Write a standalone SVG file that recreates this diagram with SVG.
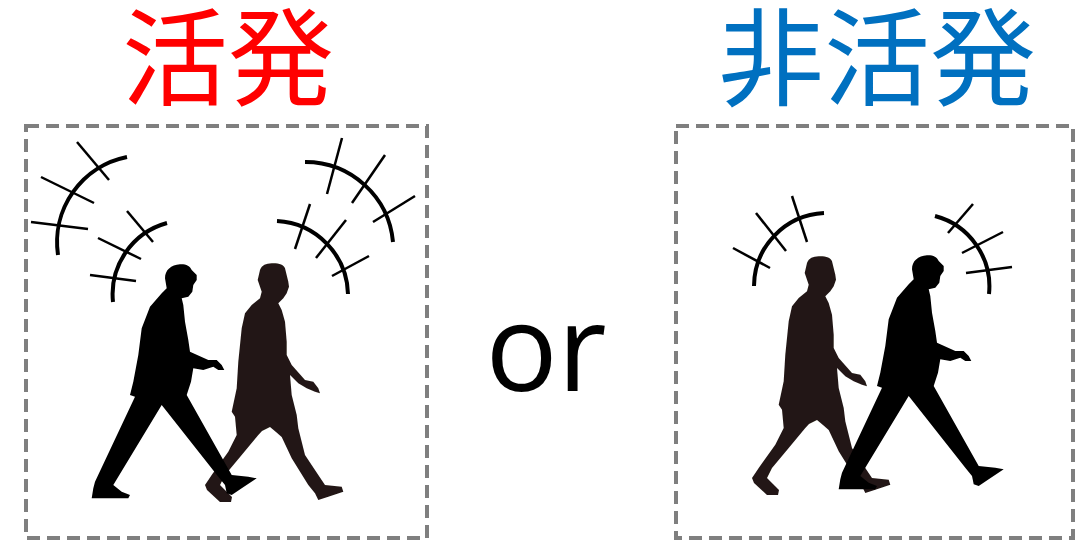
<svg xmlns="http://www.w3.org/2000/svg" xmlns:xlink="http://www.w3.org/1999/xlink" width="1076" height="559" viewBox="0 0 1076 559">
  <style>
    .frame { fill: none; stroke: #7f7f7f; stroke-width: 4; stroke-dasharray: 13 7; }
    .title { font-family: "Noto Sans CJK JP", "Noto Sans CJK SC", sans-serif; font-size: 106px; text-anchor: middle; }
    .arc { fill: none; stroke: #000; stroke-width: 4; }
    .tick { stroke: #000; stroke-width: 2.5; }
    .suit { fill: #000; }
    .casual { fill: #231815; filter: url(#soft); }
  </style>
  <defs>
    <filter id="soft" x="-5%" y="-5%" width="110%" height="110%">
      <feGaussianBlur stdDeviation="0.7"/>
    </filter>
    <!-- walker in a suit, facing right -->
    <path id="suit-walker" class="suit" d="M180,264.3 C186,264 190,266 191.7,270 L196.7,275 L196.7,280 L193.3,285 L192.3,291.7 L188.3,296.7 L181.7,298.3 L183.3,305 L185,321.7 L188.3,340 L190,351.7 L193.3,353.3 L208.3,360 L216.7,360 L221.7,365 L224.3,370 L218.3,370 L213.3,366.7 L203.3,370 L193.3,368.3 L191,381.7 L186.7,395 L231.7,475 L248.3,476.7 L256.7,478.3 L241.7,488.3 L231.7,495 L226.7,493.3 L225,485 L218.3,476.7 L161.7,405 L113.3,485 L121.7,491.7 L130,495 L128.3,498.3 L91.7,498.3 L93.3,488.3 L95,481.7 L135,396.7 L130,395 L133.3,381.7 L138.3,355 L141.7,328.3 L150,306.7 L161.7,293.3 L166.7,288.3 L165,278.3 C165,270 171,265 180,264.3 Z"/>
    <!-- walker in shorts, facing right -->
    <path id="casual-walker" class="casual" d="M271.7,263.3 C279,263 284,265 285,268.3 L288.3,281.7 L289,286.7 L286.7,293.3 L283.3,298.3 L278.3,303.3 L281.7,310 L285,321.7 L286.7,341.7 L286.7,355 L291.7,365 L305,380 L313.3,381.7 L318.3,388.3 L320,393.3 L315,391.7 L306.7,388.3 L298.3,383.3 L290,375 L291.7,395 L296.7,415 L298.3,428.3 L305,455 L318.3,475 L325,485 L341.7,486.7 L343.3,491.7 L328.3,496.7 L318.3,500 L315,493.3 L308.3,485 L291.7,458.3 L281.7,437 L276,432 L270,427 L262,431 L258.3,435 L241.7,455 L225,475 L220,485 L232,497 L231,502 L220,502 L207,490 L205,485 L211.7,475 L228.3,451.7 L236.7,435 L235,416.7 L231.7,411.7 L236.7,388.3 L238.3,361.7 L241.7,328.3 L245,313.3 L251.7,305 L260,298.3 L261.7,291.7 L257.7,280 L260,270 C262,265 266,263.5 271.7,263.3 Z"/>
  </defs>

  <!-- headings -->
  <g id="title-active">
    <text class="title" x="228" y="97" fill="#ff0000">活発</text>
  </g>
  <g id="title-inactive">
    <text class="title" x="877" y="97" fill="#0070c0">非活発</text>
  </g>
  <g id="or-label">
    <text x="546" y="391" font-family="Open Sans, sans-serif" font-size="120" text-anchor="middle" fill="#000">or</text>
  </g>

  <!-- active panel -->
  <g id="panel-active">
    <rect class="frame" x="26" y="126" width="401" height="412"/>
    <use xlink:href="#casual-walker"/>
    <use xlink:href="#suit-walker"/>
    <g id="marks-active">
      <path class="arc" d="M127,157 A87,87 0 0 0 58,255"/>
      <line class="tick" x1="77" y1="142" x2="109" y2="180"/>
      <line class="tick" x1="41" y1="177" x2="94" y2="203"/>
      <line class="tick" x1="31" y1="222" x2="88" y2="229"/>
      <path class="arc" d="M167,223 A74,74 0 0 0 113,302"/>
      <line class="tick" x1="127" y1="211" x2="153" y2="242"/>
      <line class="tick" x1="98" y1="238" x2="141" y2="259"/>
      <line class="tick" x1="90" y1="275" x2="136" y2="281"/>
      <path class="arc" d="M305,162 A88,88 0 0 1 393,242"/>
      <line class="tick" x1="342" y1="138" x2="327" y2="194"/>
      <line class="tick" x1="385" y1="155" x2="352" y2="203"/>
      <line class="tick" x1="415" y1="196" x2="373" y2="222"/>
      <path class="arc" d="M277,221 A75,75 0 0 1 348,294"/>
      <line class="tick" x1="310" y1="204" x2="295" y2="249"/>
      <line class="tick" x1="346" y1="220" x2="316" y2="258"/>
      <line class="tick" x1="369" y1="256" x2="332" y2="276"/>
    </g>
  </g>

  <!-- inactive panel -->
  <g id="panel-inactive">
    <rect class="frame" x="676" y="126" width="397" height="412"/>
    <use xlink:href="#casual-walker" transform="translate(547,-7)"/>
    <use xlink:href="#suit-walker" transform="translate(747,-9)"/>
    <g id="marks-inactive">
      <path class="arc" d="M824,213 A73.5,73.5 0 0 0 754,286"/>
      <line class="tick" x1="792" y1="196" x2="807" y2="242"/>
      <line class="tick" x1="756" y1="213" x2="786" y2="251"/>
      <line class="tick" x1="733" y1="248" x2="770" y2="268"/>
      <path class="arc" d="M935,216 A73,73 0 0 1 989,294"/>
      <line class="tick" x1="973" y1="204" x2="948" y2="233"/>
      <line class="tick" x1="1003" y1="232" x2="962" y2="253"/>
      <line class="tick" x1="1012" y1="267" x2="966" y2="273"/>
    </g>
  </g>
</svg>
